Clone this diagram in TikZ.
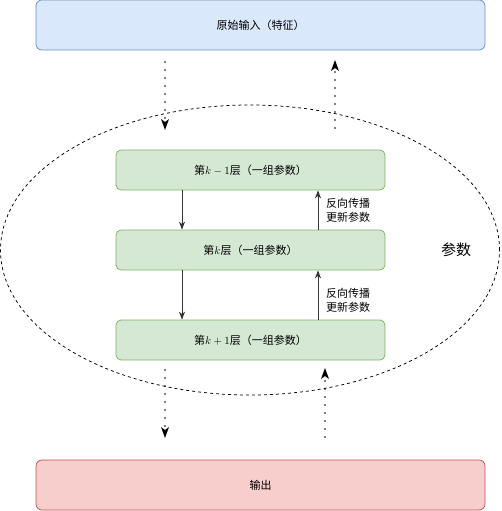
\documentclass[tikz,border=0pt]{standalone}
\usepackage{fontspec}
\setmainfont{Noto Sans CJK SC}
\usetikzlibrary{positioning,shapes.geometric,arrows.meta,decorations.markings}
\definecolor{inFill}{HTML}{DAE8FC}
\definecolor{inLine}{HTML}{6C8EBF}
\definecolor{outFill}{HTML}{F8CECC}
\definecolor{outLine}{HTML}{B85450}
\definecolor{layerFill}{HTML}{D5E8D4}
\definecolor{layerLine}{HTML}{82B366}
\definecolor{arrowGray}{HTML}{333333}
\tikzset{
	iobox/.style={draw, rounded corners=6pt, line width=0.75pt, minimum width=449pt, minimum height=50pt, font=\fontsize{11}{13}\selectfont},
	layerbox/.style={draw=layerLine, fill=layerFill, rounded corners=5pt, line width=0.75pt, minimum width=269pt, minimum height=40pt, font=\fontsize{11}{13}\selectfont},
	dotflow/.style={line width=1.6pt, dash pattern=on 0pt off 8pt, line cap=round,
		postaction={decorate, decoration={markings, mark=at position 1 with {\pgfsetdash{}{0pt}\fill (0,0) -- (-11pt,4pt) -- (-8pt,0) -- (-11pt,-4pt) -- cycle;}}}},
	backflow/.style={-{Stealth[length=8pt,width=6pt,inset=2.5pt]}, line width=0.9pt, arrowGray},
	note/.style={align=left, inner sep=0pt, font=\fontsize{11}{14}\selectfont}
}
\begin{document}
\begin{tikzpicture}[x=1pt,y=-1pt]
		\useasboundingbox (0,0) rectangle (501,511);
		\node[ellipse, draw, dash pattern=on 3pt off 3pt, line width=0.75pt, minimum width=499pt, minimum height=290pt] (params) at (250,250) {};
		\node[iobox, draw=inLine, fill=inFill] (input) at (260.5,25) {原始输入（特征）};
		\node[iobox, draw=outLine, fill=outFill] (output) at (260.5,485) {输出};
		\node[layerbox] (prev) at (250.5,170) {第$k-1$层（一组参数）};
		\node[layerbox] (cur) at (250.5,250) {第$k$层（一组参数）};
		\node[layerbox] (next) at (250.5,340) {第$k+1$层（一组参数）};
		\node[font=\fontsize{15}{17}\selectfont] (paramlabel) at (456,250) {参数};
		\coordinate (inA) at (165,62);
		\coordinate (inB) at (165,130);
		\coordinate (upA) at (335,128);
		\coordinate (upB) at (335,60);
		\coordinate (outA) at (165,370);
		\coordinate (outB) at (165,438);
		\coordinate (upC) at (325,437);
		\coordinate (upD) at (325,368);
		\draw [dotflow] (inA)--(inB);
		\draw [dotflow] (upA)--(upB);
		\draw [dotflow] (outA)--(outB);
		\draw [dotflow] (upC)--(upD);
		\draw [backflow] ([xshift=-68.5pt]prev.south)--([xshift=-68.5pt]cur.north);
		\draw [backflow] ([xshift=-68.5pt]cur.south)--([xshift=-68.5pt]next.north);
		\draw [backflow] ([xshift=67.5pt]cur.north)--([xshift=67.5pt]prev.south);
		\draw [backflow] ([xshift=67.5pt]next.north)--([xshift=67.5pt]cur.south);
		\node[note, anchor=west] (bp1) at (326,210) {反向传播\\更新参数};
		\node[note, anchor=west] (bp2) at (326,300) {反向传播\\更新参数};
	\end{tikzpicture}
\end{document}
